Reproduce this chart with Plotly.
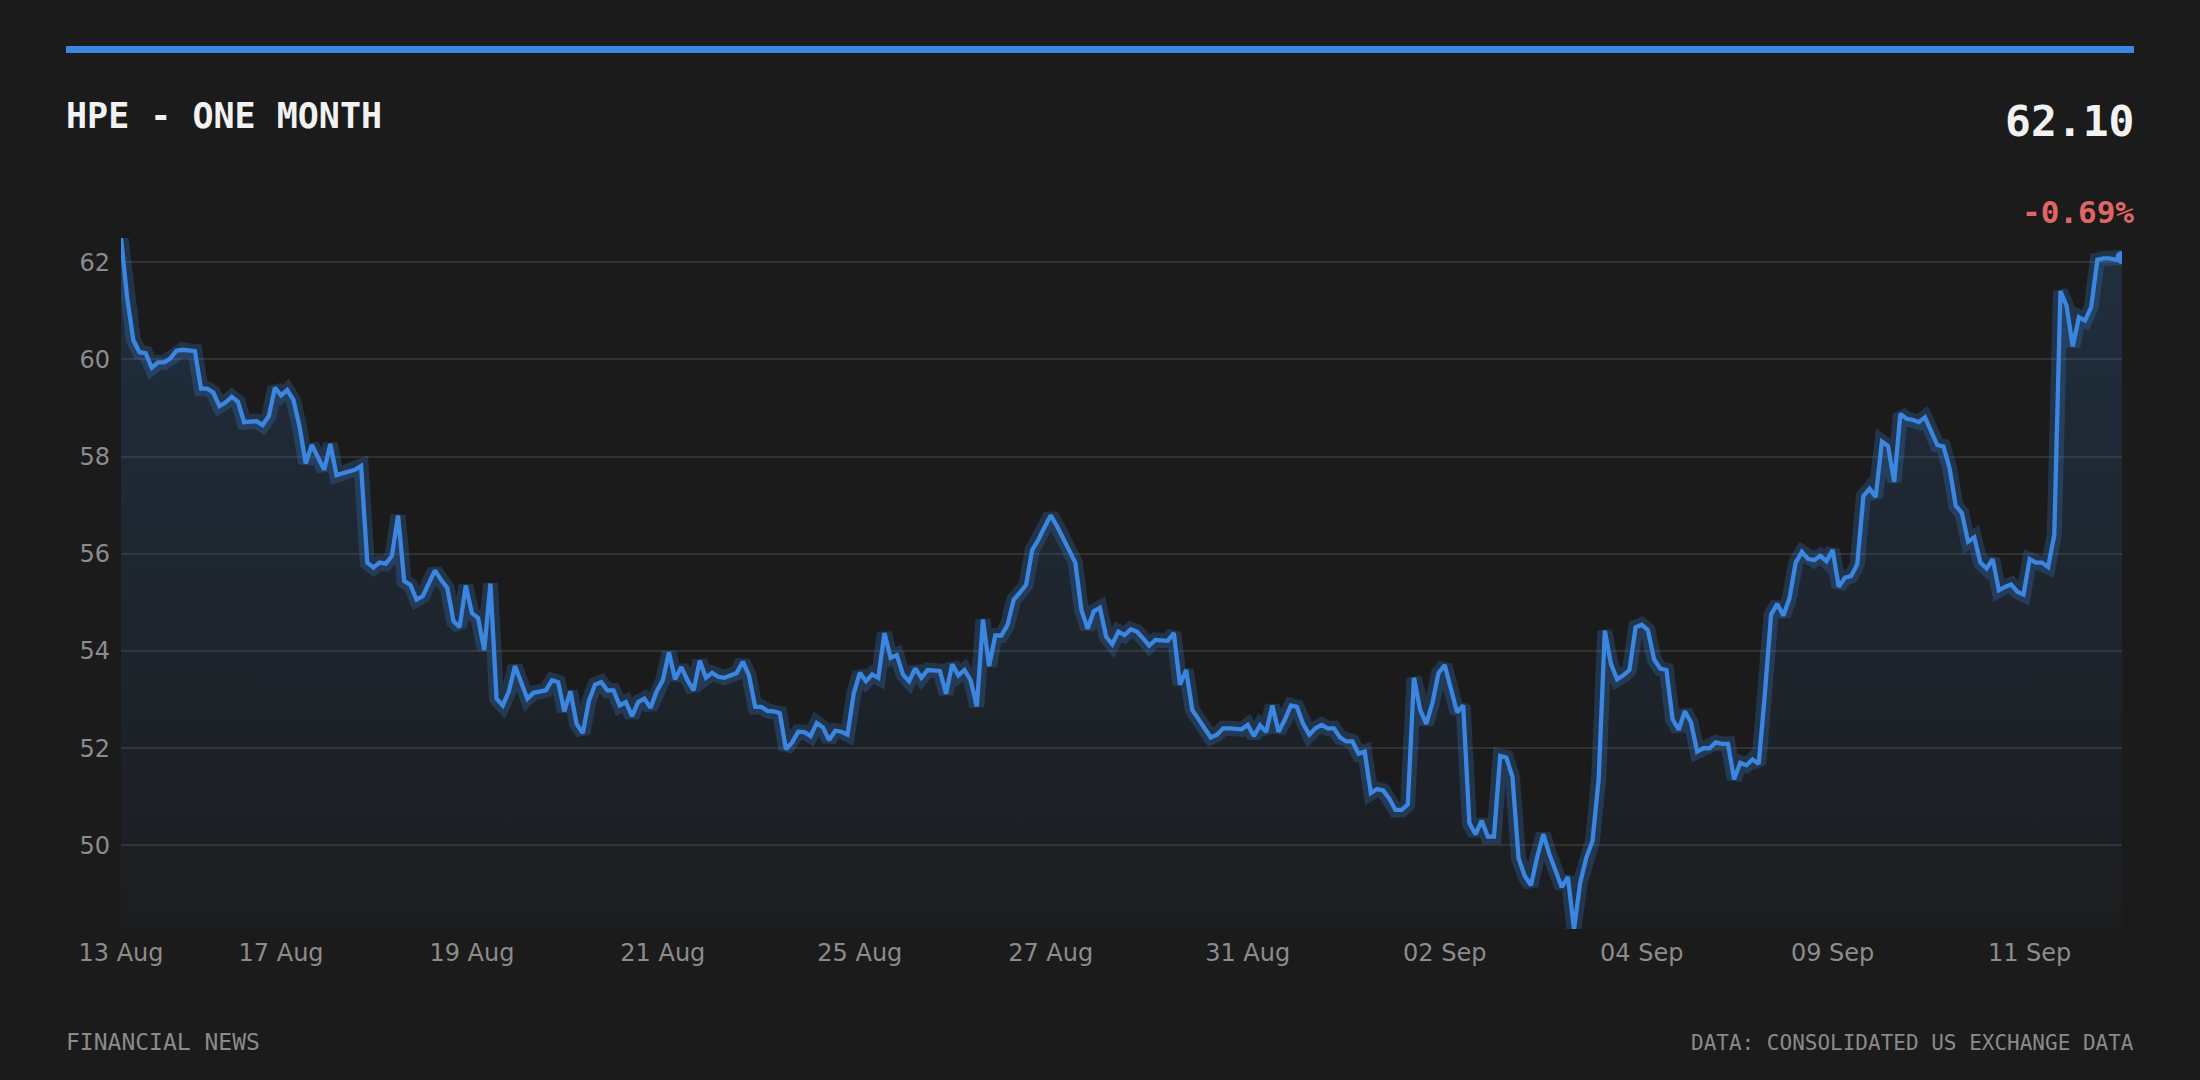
import plotly.graph_objects as go

# chart text
title_text = "HPE - ONE MONTH"
last_price_text = "62.10"
change_text = "-0.69%"
source_left = "FINANCIAL NEWS"
source_right = "DATA: CONSOLIDATED US EXCHANGE DATA"

# prices, in chunks left to right
prices_part1 = [62.50, 61.27, 60.40, 60.15, 60.13, 59.83, 59.94, 59.94, 60.02, 60.18,
                60.20, 60.18, 60.17, 59.40, 59.40, 59.32, 59.04, 59.12, 59.23, 59.13,
                58.71, 58.72, 58.73, 58.65, 58.83, 59.42, 59.26, 59.37, 59.17, 58.62,
                57.86, 58.24, 58.00, 57.73, 58.26, 57.62, 57.66, 57.69, 57.73, 57.81,
                55.82, 55.72, 55.82, 55.80, 55.96, 56.79, 55.44, 55.36, 55.06, 55.13,
                55.40, 55.66, 55.46, 55.30, 54.62, 54.49]
prices_part2 = [55.35, 54.78, 54.68, 54.02, 55.39, 53.02, 52.88, 53.17, 53.69, 53.36,
                53.02, 53.14, 53.17, 53.19, 53.40, 53.36, 52.76, 53.17, 52.50, 52.31,
                52.98, 53.31, 53.36, 53.19, 53.19, 52.88, 52.95, 52.66, 52.95, 53.02,
                52.83, 53.17, 53.40, 53.97, 53.42, 53.67, 53.40, 53.19, 53.80, 53.45,
                53.55, 53.47, 53.45, 53.50, 53.55, 53.78, 53.50, 52.85, 52.85, 52.77,
                52.76, 52.72, 51.98]
prices_part3 = [52.12, 52.34, 52.33, 52.25, 52.52, 52.43, 52.17, 52.36, 52.34, 52.28,
                53.12, 53.55, 53.38, 53.52, 53.45, 54.37, 53.86, 53.92, 53.52, 53.38,
                53.64, 53.45, 53.61, 53.59, 53.59, 53.12, 53.73, 53.50, 53.61, 53.40,
                52.86, 54.65, 53.69, 54.32, 54.32, 54.54, 55.06, 55.20, 55.36, 56.08,
                56.29, 56.55, 56.79, 56.58, 56.34, 56.10, 55.82, 54.84, 54.46, 54.82,
                54.89, 54.30, 54.14, 54.40, 54.33, 54.45, 54.40, 54.26]
prices_part4 = [54.11, 54.23, 54.23, 54.21, 54.37, 53.31, 53.61, 52.79, 52.60, 52.41,
                52.22, 52.28, 52.41, 52.41, 52.41, 52.39, 52.48, 52.25, 52.47, 52.34,
                52.88, 52.34, 52.58, 52.88, 52.85, 52.50, 52.28, 52.41, 52.48, 52.41,
                52.41, 52.22, 52.14, 52.14, 51.89, 51.93, 51.08, 51.16, 51.13, 50.96,
                50.73, 50.73, 50.84, 53.45, 52.79, 52.50, 52.93, 53.55, 53.71, 53.26,
                52.74, 52.88, 50.46, 50.23, 50.51]
prices_part5 = [50.18, 50.18, 51.84, 51.81, 51.41, 49.73, 49.37, 49.18, 49.75, 50.23,
                49.82, 49.47, 49.14, 49.35, 48.28, 49.23, 49.75, 50.09, 51.36, 54.42,
                53.73, 53.42, 53.50, 53.61, 54.49, 54.54, 54.43, 53.83, 53.64, 53.61,
                52.60, 52.38, 52.76, 52.53, 51.93, 52.00, 52.00, 52.12, 52.09, 52.09,
                51.36, 51.70, 51.65, 51.77, 51.68, 53.12, 54.75, 54.97, 54.73, 55.09,
                55.82, 56.04, 55.90, 55.87, 55.96, 55.85]
prices_part6 = [56.08, 55.32, 55.51, 55.54, 55.79, 57.19, 57.34, 57.17, 58.31, 58.22,
                57.48, 58.88, 58.78, 58.76, 58.71, 58.81, 58.54, 58.24, 58.21, 57.76,
                56.99, 56.84, 56.25, 56.34, 55.82, 55.70, 55.89, 55.25, 55.32, 55.37,
                55.22, 55.16, 55.89, 55.82, 55.82, 55.73, 56.39, 61.41, 61.10, 60.27,
                60.87, 60.80, 61.08, 62.05, 62.08, 62.08, 62.05, 62.10]

tick_pos = [0, 26, 57, 88, 120, 151, 183, 215, 247, 278, 310]
tick_labels = ["13 Aug", "17 Aug", "19 Aug", "21 Aug", "25 Aug", "27 Aug",
               "31 Aug", "02 Sep", "04 Sep", "09 Sep", "11 Sep"]
y_ticks = [50, 52, 54, 56, 58, 60, 62]

prices = (prices_part1 + prices_part2 + prices_part3 +
          prices_part4 + prices_part5 + prices_part6)
xs = list(range(len(prices)))
ymin, ymax = min(prices), max(prices)

W, H = 2200, 1080
ML, MR, MT, MB = 121, 78, 238, 151
BG = "#1b1b1b"
BLUE = "#3a86e0"


def px_x(p):
    return (p - ML) / (W - ML - MR)


def px_y(p):
    return (H - MB - p) / (H - MT - MB)


fig = go.Figure()

# gradient area under the line
fig.add_trace(go.Scatter(
    x=xs, y=prices, mode="lines", line=dict(width=0),
    fill="tozeroy",
    fillgradient=dict(type="vertical",
                      colorscale=[[0, "rgba(58,134,224,0.02)"],
                                  [1, "rgba(58,134,224,0.18)"]],
                      start=ymin, stop=ymax),
    hoverinfo="skip", showlegend=False))
# soft glow
fig.add_trace(go.Scatter(
    x=xs, y=prices, mode="lines",
    line=dict(color="rgba(58,134,224,0.24)", width=15),
    hoverinfo="skip", showlegend=False))
# main line
fig.add_trace(go.Scatter(
    x=xs, y=prices, mode="lines",
    line=dict(color=BLUE, width=4.3),
    showlegend=False))
# last point dot
fig.add_trace(go.Scatter(
    x=[xs[-1]], y=[prices[-1]], mode="markers",
    marker=dict(color=BLUE, size=13),
    showlegend=False))

fig.update_layout(
    width=W, height=H,
    margin=dict(l=ML, r=MR, t=MT, b=MB),
    paper_bgcolor=BG, plot_bgcolor=BG,
    showlegend=False,
    xaxis=dict(range=[0, len(prices) - 1], showgrid=False, zeroline=False,
               showline=False, tickmode="array", tickvals=tick_pos,
               ticktext=tick_labels, ticklabelstandoff=7,
               tickfont=dict(family="DejaVu Sans", size=24, color="#8c8c8c")),
    yaxis=dict(range=[ymin, ymax], tickmode="array", tickvals=y_ticks,
               showgrid=True, gridcolor="#313131", gridwidth=1.5,
               zeroline=False, showline=False, ticklabelstandoff=10,
               tickfont=dict(family="DejaVu Sans", size=24, color="#8c8c8c")),
    shapes=[dict(type="rect", xref="paper", yref="paper",
                 x0=px_x(66), x1=px_x(2134), y0=px_y(53), y1=px_y(46),
                 fillcolor=BLUE, line=dict(width=0))],
)

mono = "DejaVu Sans Mono"
fig.add_annotation(x=px_x(64), y=px_y(116), xref="paper", yref="paper",
                   text="<b>" + title_text + "</b>", showarrow=False,
                   xanchor="left", yanchor="middle",
                   font=dict(family=mono, size=35, color="#f2f2f2"))
fig.add_annotation(x=px_x(2136), y=px_y(121), xref="paper", yref="paper",
                   text="<b>" + last_price_text + "</b>", showarrow=False,
                   xanchor="right", yanchor="middle",
                   font=dict(family=mono, size=43, color="#f2f2f2"))
fig.add_annotation(x=px_x(2136), y=px_y(212), xref="paper", yref="paper",
                   text="<b>" + change_text + "</b>", showarrow=False,
                   xanchor="right", yanchor="middle",
                   font=dict(family=mono, size=31, color="#e06666"))
fig.add_annotation(x=px_x(64), y=px_y(1042), xref="paper", yref="paper",
                   text=source_left, showarrow=False,
                   xanchor="left", yanchor="middle",
                   font=dict(family=mono, size=23, color="#8a8a8a"))
fig.add_annotation(x=px_x(2136), y=px_y(1043), xref="paper", yref="paper",
                   text=source_right, showarrow=False,
                   xanchor="right", yanchor="middle",
                   font=dict(family=mono, size=21, color="#8a8a8a"))

# the page's default body margin would leave a white frame round the chart
fig.write_html("out.html",
               config={"displayModeBar": False},
               post_script="document.body.style.margin='0';"
                           "document.body.style.background='#1b1b1b';")
